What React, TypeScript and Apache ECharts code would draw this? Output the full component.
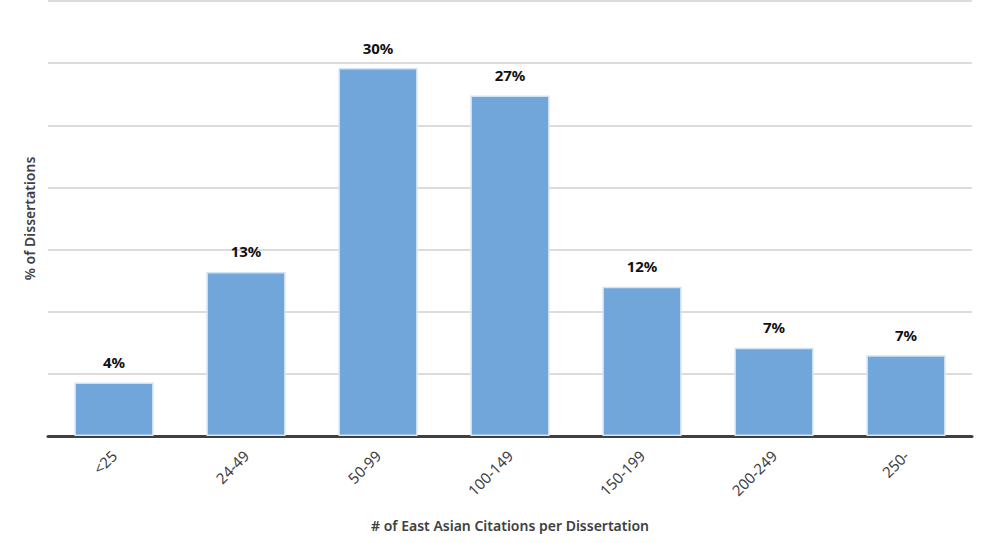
import React, { useEffect, useRef } from "react";
import * as echarts from "echarts";

const categories = ["<25", "24-49", "50-99", "100-149", "150-199", "200-249", "250-"];
const shares = [4.3, 13.2, 29.6, 27.4, 12.0, 7.1, 6.5];
const yMax = 35;
const yStep = 5;

const font = "'Noto Sans', 'Open Sans', sans-serif";

const App: React.FC = () => {
  const chartRef = useRef<HTMLDivElement>(null);

  useEffect(() => {
    if (!chartRef.current) return;
    const chart = echarts.init(chartRef.current, undefined, { renderer: "svg" });

    const option: echarts.EChartsOption = {
      animation: false,
      textStyle: { fontFamily: font },
      grid: { left: 48, right: 18, top: 1, bottom: 107 },
      xAxis: {
        type: "category",
        data: categories,
        name: "# of East Asian Citations per Dissertation",
        nameLocation: "middle",
        nameGap: 82,
        nameTextStyle: { color: "#404040", fontSize: 14, fontWeight: 600, fontFamily: font },
        axisLine: { lineStyle: { color: "#404040", width: 3 } },
        axisTick: { show: false },
        axisLabel: { rotate: 45, color: "#404040", fontSize: 15, margin: 17, fontFamily: font },
      },
      yAxis: {
        type: "value",
        min: 0,
        max: yMax,
        interval: yStep,
        name: "% of Dissertations",
        nameLocation: "middle",
        nameGap: 12,
        nameTextStyle: { color: "#404040", fontSize: 14, fontWeight: 600, fontFamily: font },
        axisLabel: { show: false },
        axisLine: { show: false },
        axisTick: { show: false },
        splitLine: { lineStyle: { color: "#d0d0d0", width: 1.5 } },
      },
      series: [
        {
          type: "bar",
          data: shares,
          barCategoryGap: "40%",
          itemStyle: { color: "#70a6d9", borderColor: "#d4e3f3", borderWidth: 1.5 },
          label: {
            show: true,
            position: "top",
            distance: 13,
            color: "#111",
            fontSize: 15,
            fontWeight: "bold",
            fontFamily: font,
            formatter: (p: any) => `${Math.round(p.value)}%`,
          },
        },
      ],
    };

    chart.setOption(option as any);
    return () => {
      chart.dispose();
    };
  }, []);

  return (
    <div
      ref={chartRef}
      style={{ position: "fixed", left: 0, top: 0, width: "990px", height: "543px", background: "#fff" }}
    />
  );
};

export default App;
